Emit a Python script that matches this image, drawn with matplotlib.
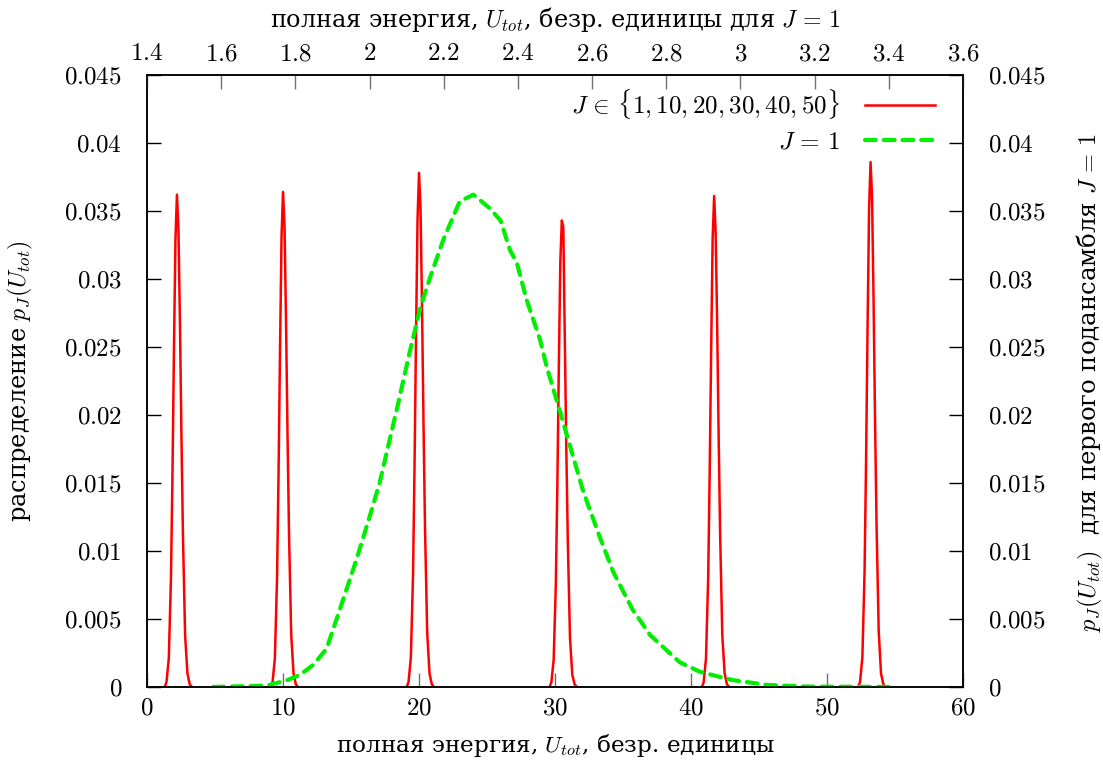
import matplotlib
matplotlib.use("Agg")
import matplotlib.pyplot as plt
from matplotlib.ticker import FuncFormatter, MultipleLocator

plt.rcParams['font.family'] = ['DejaVu Serif']
plt.rcParams['mathtext.fontset'] = 'cm'
plt.rcParams['font.size'] = 18

# red peaks: one narrow distribution per subensemble J = 1, 10, 20, 30, 40, 50
peak_dx = [-0.9, -0.77, -0.6, -0.44, -0.33, -0.22, -0.11, 0.0, 0.11, 0.22, 0.33, 0.44, 0.6, 0.77, 0.94, 1.1]
peak_centers = [2.2, 10.0, 20.0, 30.5, 41.7, 53.2]
peak_1 = [0, 0.00036, 0.0021, 0.0080, 0.0156, 0.0248, 0.0329, 0.0362, 0.0337, 0.0268, 0.0185, 0.0112, 0.0038, 0.0010, 0.0002, 0]
peak_10 = [0, 0.00036, 0.0021, 0.0080, 0.0157, 0.0249, 0.0331, 0.0364, 0.0339, 0.0269, 0.0186, 0.0113, 0.0039, 0.0010, 0.0002, 0]
peak_20 = [0, 0.00038, 0.0022, 0.0083, 0.0163, 0.0259, 0.0344, 0.0378, 0.0352, 0.0280, 0.0193, 0.0117, 0.0040, 0.0010, 0.0002, 0]
peak_30 = [0, 0.00034, 0.0020, 0.0076, 0.0148, 0.0236, 0.0313, 0.0343, 0.0338, 0.0255, 0.0175, 0.0107, 0.0036, 0.0009, 0.0002, 0]
peak_40 = [0, 0.00036, 0.0021, 0.0080, 0.0156, 0.0248, 0.0330, 0.0361, 0.0334, 0.0268, 0.0185, 0.0112, 0.0038, 0.0010, 0.0002, 0]
peak_50 = [0, 0.00039, 0.0022, 0.0085, 0.0166, 0.0264, 0.0351, 0.0386, 0.0360, 0.0286, 0.0197, 0.0120, 0.0041, 0.0010, 0.0002, 0]
peaks = [peak_1, peak_10, peak_20, peak_30, peak_40, peak_50]

# green: J = 1 distribution, x in units of the top axis
green_u = [1.578, 1.723, 1.778, 1.813, 1.847, 1.884, 1.921, 1.965, 2.001, 2.027, 2.075, 2.108,
           2.137, 2.163, 2.199, 2.243, 2.280, 2.324, 2.353, 2.379, 2.397, 2.423, 2.460, 2.478,
           2.515, 2.577, 2.621, 2.658, 2.709, 2.757, 2.837, 2.892, 2.980, 3.072, 3.178, 3.413]
green_p = [0, 0.0001, 0.0005, 0.0009, 0.0016, 0.0028, 0.0058, 0.0094, 0.0126, 0.0150, 0.0206, 0.0246,
           0.0279, 0.0301, 0.0329, 0.0357, 0.0362, 0.0352, 0.0343, 0.0321, 0.0312, 0.0285, 0.0255, 0.0235,
           0.0201, 0.0143, 0.0110, 0.0084, 0.0057, 0.0038, 0.0018, 0.0011, 0.0005, 0.00015, 0.00003, 0]

fig = plt.figure(figsize=(11.03, 7.65), dpi=100)
ax = fig.add_axes([0.1333, 0.1020, 0.7398, 0.8000])
ax_top = ax.twiny()

for i, (c, ys) in enumerate(zip(peak_centers, peaks)):
    xs = [c + d for d in peak_dx]
    ax.plot(xs, ys, color='#ff0000', lw=1.8,
            label=r'$J \,\in\, \{1, 10, 20, 30, 40, 50\}$' if i == 0 else None)

ax_top.plot(green_u, green_p, color='#00ee00', lw=3, dashes=(2.6, 1.9),
            dash_capstyle='round', label=r'$J \,=\, 1$')

ax.set_xlim(0, 60)
ax.set_ylim(0, 0.045)
ax_top.set_xlim(1.4, 3.6)

def math_fmt(v, pos):
    s = ('%.3f' % v).rstrip('0').rstrip('.')
    return '$' + s + '$'

ax.xaxis.set_major_locator(MultipleLocator(10))
ax.yaxis.set_major_locator(MultipleLocator(0.005))
ax_top.xaxis.set_major_locator(MultipleLocator(0.2))
ax.xaxis.set_major_formatter(FuncFormatter(math_fmt))
ax.yaxis.set_major_formatter(FuncFormatter(math_fmt))
ax_top.xaxis.set_major_formatter(FuncFormatter(math_fmt))

ax.tick_params(axis='y', direction='in', length=10, width=1, left=True, right=True,
               labelleft=True, labelright=True, pad=18)
ax.tick_params(axis='x', direction='in', length=10, width=1, color='#707070', pad=7)
ax_top.tick_params(axis='x', direction='in', length=10, width=1, color='#707070', pad=7)

for a in (ax, ax_top):
    for s in a.spines.values():
        s.set_linewidth(1.1)

ax.set_xlabel(r'полная энергия, $U_{tot}$, безр. единицы', fontsize=16.7, labelpad=9)
ax.set_ylabel(r'распределение $p_J(U_{tot})$', fontsize=17.4, labelpad=21)
ax_top.set_xlabel(r'полная энергия, $U_{tot}$, безр. единицы для $J \,=\, 1$', fontsize=17.2, labelpad=11)
fig.text(0.988, 0.5, r'$p_J(U_{tot})$  для первого подансамбля $J \,=\, 1$',
         rotation=90, ha='center', va='center', fontsize=17.6)

h1, l1 = ax.get_legend_handles_labels()
h2, l2 = ax_top.get_legend_handles_labels()
ax_top.legend(h1 + h2, l1 + l2, loc='upper right', frameon=False, markerfirst=False,
              handlelength=2.8, handletextpad=1.0, labelspacing=0.4,
              borderaxespad=0, bbox_to_anchor=(0.978, 0.9967))

fig.savefig('out.png', dpi=100)
